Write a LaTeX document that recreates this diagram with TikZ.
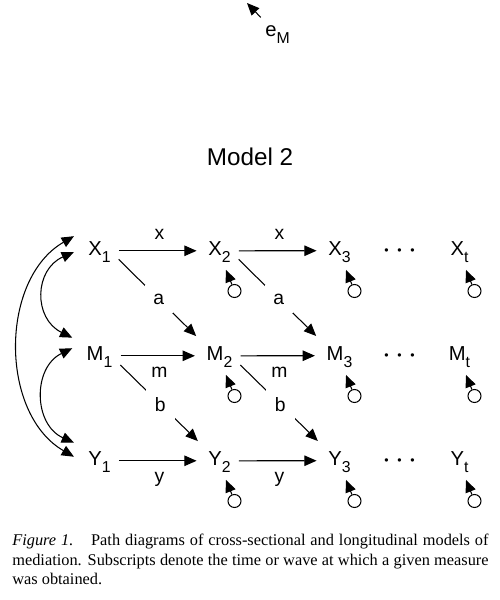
\documentclass[tikz,border=0pt]{standalone}
\usepackage{fontspec}
\setmainfont{Liberation Sans}
\newfontfamily\capfont{Liberation Serif}
\usetikzlibrary{positioning}
\usetikzlibrary{arrows.meta}
\newcommand{\nv}[2]{#1\raisebox{-4pt}{\fontsize{9}{9}\selectfont #2}}
\newcommand{\tdots}{{\fontsize{7}{7}\selectfont\textbullet\hspace{5pt}\textbullet\hspace{5pt}\textbullet}}

\begin{document}
\begin{tikzpicture}[on grid, node distance=2.1cm and 2.4cm,
  every node/.style={font=\fontsize{11.5}{12}\selectfont, inner sep=4pt},
  arr/.style={-{Triangle[length=7pt,width=6pt]}, line width=0.6pt},
  corr/.style={{Triangle[length=7pt,width=6pt]}-{Triangle[length=7pt,width=6pt]}, line width=0.6pt},
  hor/.style={arr, shorten <=0.5pt, shorten >=2.5pt},
  err/.style={draw, circle, minimum size=7.4pt, inner sep=0pt, line width=0.6pt},
  coef/.style={font=\fontsize{11}{12}\selectfont, inner sep=6pt},
  cut/.style={coef, fill=white, inner sep=5pt}]
  \useasboundingbox (0,0) rectangle (10,12);
  \coordinate (top) at (4.94,11.94);
  \node (eM) at (5.55,11.3) {\nv{e}{M}};
  \node (title) at (5,8.87) {\fontsize{13.8}{15}\selectfont Model 2};
  \node (X1) at (1.99,6.96) {\nv{X}{1}};
  \node (X2) [right=of X1] {\nv{X}{2}};
  \node (X3) [right=of X2] {\nv{X}{3}};
  \node (Xt) [right=of X3] {\nv{X}{t}};
  \node (M1) [below=of X1] {\nv{M}{1}};
  \node (M2) [right=of M1] {\nv{M}{2}};
  \node (M3) [right=of M2] {\nv{M}{3}};
  \node (Mt) [right=of M3] {\nv{M}{t}};
  \node (Y1) [below=of M1] {\nv{Y}{1}};
  \node (Y2) [right=of Y1] {\nv{Y}{2}};
  \node (Y3) [right=of Y2] {\nv{Y}{3}};
  \node (Yt) [right=of Y3] {\nv{Y}{t}};
  \node (dX) [right=1.2cm of X3] {\tdots};
  \node (dM) [right=1.2cm of M3] {\tdots};
  \node (dY) [right=1.2cm of Y3] {\tdots};
  \node (eX2) [err, below right=0.78cm and 0.3cm of X2] {};
  \node (eX3) [err, below right=0.78cm and 0.3cm of X3] {};
  \node (eXt) [err, below right=0.78cm and 0.3cm of Xt] {};
  \node (eM2) [err, below right=0.78cm and 0.3cm of M2] {};
  \node (eM3) [err, below right=0.78cm and 0.3cm of M3] {};
  \node (eMt) [err, below right=0.78cm and 0.3cm of Mt] {};
  \node (eY2) [err, below right=0.78cm and 0.3cm of Y2] {};
  \node (eY3) [err, below right=0.78cm and 0.3cm of Y3] {};
  \node (eYt) [err, below right=0.78cm and 0.3cm of Yt] {};
  \node (caption) [anchor=north west, inner sep=0pt, text width=271pt, align=justify,
    font=\capfont\fontsize{9.3}{11.05}\selectfont] at (0.24,1.32)
    {\hyphenpenalty=10000 \textit{Figure 1.}\hspace{0.6em} Path diagrams of cross-sectional and longitudinal models of\linebreak mediation. Subscripts denote the time or wave at which a given measure\linebreak was obtained.};
  \draw[arr, shorten <=1pt] (eM) -- (top);
  \draw[hor] (X1.mid east) -- node[coef, above] {x} (X2.mid west);
  \draw[hor] (X2.mid east) -- node[coef, above] {x} (X3.mid west);
  \draw[hor] (M1.mid east) -- node[coef, below] {m} (M2.mid west);
  \draw[hor] (M2.mid east) -- node[coef, below] {m} (M3.mid west);
  \draw[hor] (Y1.mid east) -- node[coef, below] {y} (Y2.mid west);
  \draw[hor] (Y2.mid east) -- node[coef, below] {y} (Y3.mid west);
  \draw[hor] (X1.-20) -- node[cut] {a} (M2.north west);
  \draw[hor] (X2.-20) -- node[cut] {a} (M3.north west);
  \draw[hor] (M1.-20) -- node[cut] {b} (Y2.north west);
  \draw[hor] (M2.-20) -- node[cut] {b} (Y3.north west);
  \draw[arr] (eX2) -- (X2.-70);
  \draw[arr] (eX3) -- (X3.-70);
  \draw[arr] (eXt) -- (Xt.-70);
  \draw[arr] (eM2) -- (M2.-70);
  \draw[arr] (eM3) -- (M3.-70);
  \draw[arr] (eMt) -- (Mt.-70);
  \draw[arr] (eY2) -- (Y2.-70);
  \draw[arr] (eY3) -- (Y3.-70);
  \draw[arr] (eYt) -- (Yt.-70);
  \draw[corr] ([xshift=-4pt,yshift=9pt]X1.west) to[bend right=60] ([xshift=-4pt,yshift=3pt]Y1.west);
  \draw[corr] ([xshift=-4pt]X1.west) to[bend right=65, looseness=1.3] ([xshift=-4pt,yshift=11pt]M1.west);
  \draw[corr] ([xshift=-4pt,yshift=5pt]M1.west) to[bend right=65, looseness=1.2] ([xshift=-4pt,yshift=11pt]Y1.west);
\end{tikzpicture}
\end{document}
